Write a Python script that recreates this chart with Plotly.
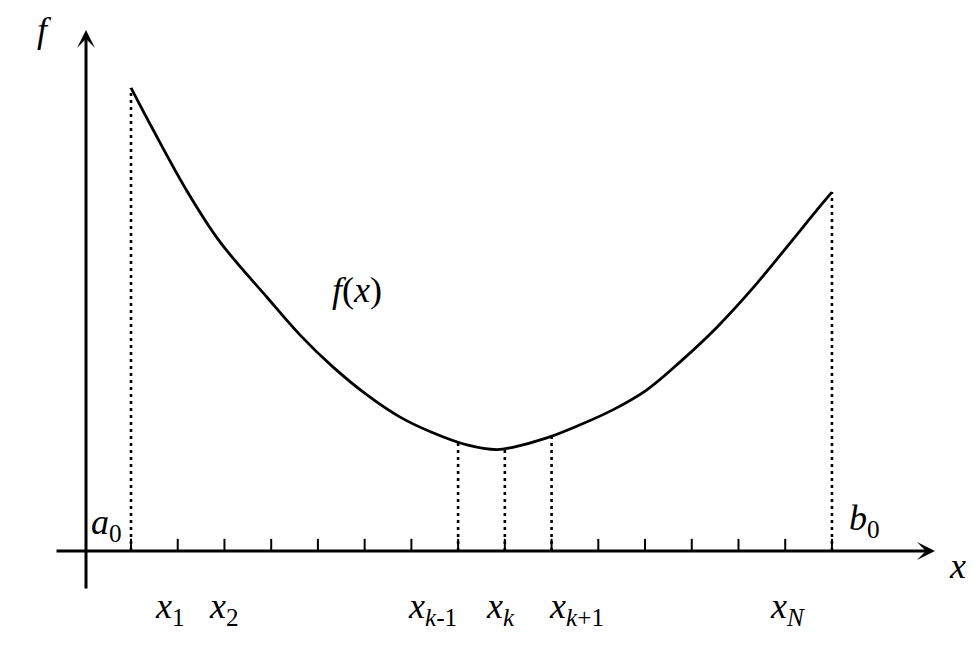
import plotly.graph_objects as go

# ---- data (x in grid-step units, a0 = 0, b0 = 15) ----
curve_x = [0, 0.47, 1.20, 1.90, 2.91, 3.62, 4.32, 5.05, 5.75, 6.46, 7.19, 7.83,
           8.17, 8.90, 9.61, 10.31, 11.04, 11.81, 12.54, 13.25, 13.95, 14.68, 15.0]
curve_y = [9.91, 9.02, 7.70, 6.62, 5.43, 4.62, 3.94, 3.34, 2.87, 2.53, 2.27, 2.17,
           2.22, 2.42, 2.70, 3.02, 3.45, 4.10, 4.79, 5.56, 6.40, 7.30, 7.68]

grid_points = list(range(16))              # tick marks a0 .. b0
dotted_x = [0, 7, 8, 9, 15]                # a0, x_{k-1}, x_k, x_{k+1}, b0
dotted_top = [9.91, 2.32, 2.18, 2.44, 7.68]

label_pos = [1, 2, 7, 8, 9, 14]
label_text = ["<i>x</i><sub>1</sub>", "<i>x</i><sub>2</sub>",
              "<i>x</i><sub><i>k</i>-1</sub>", "<i>x</i><sub><i>k</i></sub>",
              "<i>x</i><sub><i>k</i>+1</sub>", "<i>x</i><sub><i>N</i></sub>"]

# ---- layout geometry (reference pixels; page body has an 8px margin) ----
PAD = 8
W, H = 976 - 2 * PAD, 650 - 2 * PAD
X0PX, Y0PX, U = 131, 551, 46.73
xr = [(PAD - X0PX) / U, (PAD + W - X0PX) / U]
yr = [(Y0PX - PAD - H) / U, (Y0PX - PAD) / U]
FONT = "Liberation Serif"
FS = 36

fig = go.Figure()

# curve
fig.add_trace(go.Scatter(x=curve_x, y=curve_y, mode="lines",
                         line=dict(color="black", width=2.8, shape="spline", smoothing=1.0),
                         hoverinfo="skip"))

# tick marks
tx, ty = [], []
for g in grid_points:
    tx += [g, g, None]
    ty += [0, 0.26, None]
fig.add_trace(go.Scatter(x=tx, y=ty, mode="lines",
                         line=dict(color="black", width=2), hoverinfo="skip"))

# dotted verticals
dx, dy = [], []
for xv, top in zip(dotted_x, dotted_top):
    dx += [xv, xv, None]
    dy += [0, top, None]
fig.add_trace(go.Scatter(x=dx, y=dy, mode="lines",
                         line=dict(color="black", width=2.6, dash="3px,4px"), hoverinfo="skip"))

# axes with arrows
yaxis_x = (86 - X0PX) / U
fig.add_annotation(x=(935 - X0PX) / U, y=0, ax=(55 - X0PX) / U, ay=0,
                   xref="x", yref="y", axref="x", ayref="y", text="",
                   showarrow=True, arrowhead=3, arrowwidth=3, arrowsize=1, arrowcolor="black")
fig.add_annotation(x=yaxis_x, y=(Y0PX - 30) / U, ax=yaxis_x, ay=(Y0PX - 590) / U,
                   xref="x", yref="y", axref="x", ayref="y", text="",
                   showarrow=True, arrowhead=3, arrowwidth=3, arrowsize=1, arrowcolor="black")

# tick labels
shifts = [-8, 0, -26, -4, 25, 2]
for p, t, s in zip(label_pos, label_text, shifts):
    fig.add_annotation(x=p, y=0, text=t, showarrow=False, xanchor="center", yanchor="middle",
                       xshift=s, yshift=-57, font=dict(family=FONT, size=FS, color="black"))

# other texts (reference pixel positions)
def txt(xp, yp, t):
    fig.add_annotation(x=(xp - X0PX) / U, y=(Y0PX - yp) / U, text=t, showarrow=False,
                       xanchor="center", yanchor="middle",
                       font=dict(family=FONT, size=FS, color="black"))

txt(44, 30, "<i>f</i>")
txt(957, 566, "<i>x</i>")
txt(106, 524, "<i>a</i><sub>0</sub>")
txt(864, 520, "<i>b</i><sub>0</sub>")
txt(357, 290, "<i>f</i>(<i>x</i>)")

fig.update_xaxes(range=xr, visible=False, fixedrange=True)
fig.update_yaxes(range=yr, visible=False, fixedrange=True)
fig.update_layout(width=W, height=H, margin=dict(l=0, r=0, t=0, b=0),
                  plot_bgcolor="white", paper_bgcolor="white", showlegend=False)

fig.write_html("out.html")
